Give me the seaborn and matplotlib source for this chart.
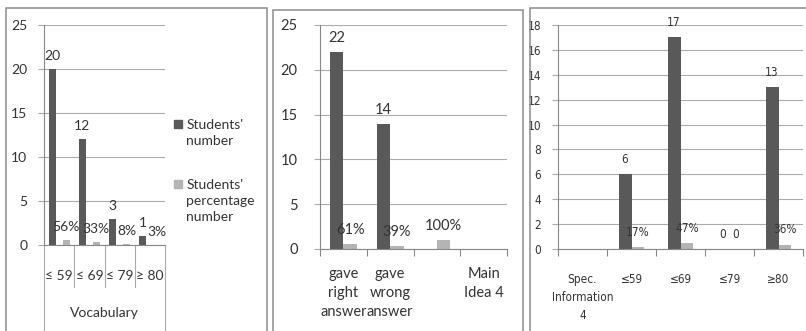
import numpy as np
import pandas as pd
import matplotlib
matplotlib.use("Agg")
import matplotlib.pyplot as plt
from matplotlib.patches import Rectangle
from matplotlib.lines import Line2D
from matplotlib.transforms import blended_transform_factory
import seaborn as sns

# ---- data -------------------------------------------------------------
vocab_bands = ["≤ 59", "≤ 69", "≤ 79", "≥ 80"]
vocab_counts = [20, 12, 3, 1]
vocab_shares = [0.56, 0.33, 0.08, 0.03]
vocab_title = "Vocabulary"

idea_groups = ["gave\nright\nanswer", "gave\nwrong\nanswer", "", "Main\nIdea 4"]
idea_counts = [22, 14, np.nan, np.nan]
idea_shares = [0.61, 0.39, 1.00, np.nan]

spec_bands = ["Spec.\nInformation\n4", "≤59", "≤69", "≤79", "≥80"]
spec_counts = [np.nan, 6, 17, 0, 13]
spec_shares = [np.nan, 0.17, 0.47, 0, 0.36]

series_names = ["Students' number", "Students' percentage number"]
legend_labels = ["Students'\nnumber", "Students'\npercentage\nnumber"]

# ---- style ------------------------------------------------------------
DARK = "#595959"
LIGHT = "#b4b4b4"
GRID = "#ababab"
AXIS = "#878787"
BORDER = "#8c8c8c"
TEXT = "#333333"
MAIN_FONT = ["Lato", "DejaVu Sans"]
NARROW_FONT = ["Liberation Sans Narrow", "DejaVu Sans"]

W, H = 806, 331
fig = plt.figure(figsize=(W / 100, H / 100), dpi=100)
fig.patch.set_facecolor("white")


def px_box(left, top, right, bottom):
    return [left / W, 1 - bottom / H, (right - left) / W, (bottom - top) / H]


def fy(y):
    return 1 - y / H


def long_frame(cats, counts, shares):
    n = len(cats)
    df = pd.DataFrame({
        "category": list(cats) * 2,
        "series": [series_names[0]] * n + [series_names[1]] * n,
        "value": list(counts) + list(shares),
    })
    return df.dropna()


def share_text(v):
    return "0" if v == 0 else f"{v:.0%}"


def draw_panel(ax, cats, counts, shares, width, gap, ymax, ystep,
               family, size, stretch, label_pad):
    df = long_frame(cats, counts, shares)
    sns.barplot(data=df, x="category", y="value", hue="series",
                order=cats, hue_order=series_names,
                palette=[DARK, LIGHT], saturation=1,
                width=width, gap=gap, errorbar=None, legend=False, ax=ax)
    ax.set_xlabel("")
    ax.set_ylabel("")
    ax.set_ylim(0, ymax)
    ax.set_yticks(np.arange(0, ymax + 0.01, ystep))
    ax.set_xlim(-0.5, len(cats) - 0.5)
    ax.yaxis.grid(True, color=GRID, lw=0.8)
    ax.set_axisbelow(True)
    for side in ("top", "right"):
        ax.spines[side].set_visible(False)
    for side in ("left", "bottom"):
        ax.spines[side].set_color(AXIS)
        ax.spines[side].set_linewidth(0.8)
    ax.tick_params(axis="y", length=4, color=GRID, width=0.8,
                   labelcolor=TEXT, labelsize=size)
    fmts = ["{:.0f}", share_text]
    for cont, fmt in zip(ax.containers, fmts):
        labels = ax.bar_label(cont, fmt=fmt, padding=label_pad,
                              fontsize=size, color=TEXT)
        for t in labels:
            t.set_family(family)
            t.set_stretch(stretch)
    return ax


def style_ticklabels(ax, family, stretch):
    for t in ax.get_xticklabels() + ax.get_yticklabels():
        t.set_family(family)
        t.set_stretch(stretch)


# ---- panel frames -----------------------------------------------------
for (l, t, r) in [(6, 8, 267), (273, 10, 523), (530, 8, 812)]:
    fig.add_artist(Rectangle((l / W, fy(345)), (r - l) / W, (345 - t) / H,
                             transform=fig.transFigure, fill=False,
                             ec=BORDER, lw=1.1))

# ---- panel 1: vocabulary ---------------------------------------------
ax1 = fig.add_axes(px_box(44, 25, 165, 245))
draw_panel(ax1, vocab_bands, vocab_counts, vocab_shares, width=0.93,
           gap=0.5, ymax=25, ystep=5, family=MAIN_FONT, size=10,
           stretch="normal", label_pad=5)
ax1.set_xticks(range(len(vocab_bands)))
ax1.set_xticklabels(vocab_bands)
ax1.tick_params(axis="x", length=0, pad=18, labelcolor=TEXT, labelsize=10)
ax1.tick_params(axis="y", pad=8)
style_ticklabels(ax1, MAIN_FONT, "normal")

# category separators below the axis
sep_tr = blended_transform_factory(ax1.transData, fig.transFigure)
n1 = len(vocab_bands)
for i in range(n1 + 1):
    xb = i - 0.5
    y_end = fy(340) if i in (0, n1) else fy(287)
    ax1.add_line(Line2D([xb, xb], [fy(245), y_end], transform=sep_tr,
                        color=GRID, lw=0.8, clip_on=False))
ax1.text((n1 - 1) / 2, fy(313), vocab_title, transform=sep_tr,
         ha="center", va="center", fontsize=10, color=TEXT,
         family=MAIN_FONT)

handles = [Line2D([], [], marker="s", ls="", color=DARK, markersize=6),
           Line2D([], [], marker="s", ls="", color=LIGHT, markersize=6)]
leg = ax1.legend(handles, legend_labels, loc="upper left",
                 bbox_to_anchor=(175 / W, fy(119)),
                 bbox_transform=fig.transFigure, frameon=False,
                 handlelength=0.5, handletextpad=0.3, labelspacing=2.3,
                 borderaxespad=0, borderpad=0,
                 prop={"family": MAIN_FONT, "size": 10})
for t in leg.get_texts():
    t.set_color(TEXT)
    t.set_linespacing(1.4)
    t.set_multialignment("left")
# put each marker beside the first line of its entry
for column in leg._legend_handle_box.get_children():
    for row in column.get_children():
        row.align = "top"

# ---- panel 2: main idea ------------------------------------------------
ax2 = fig.add_axes(px_box(320, 25, 507, 249))
draw_panel(ax2, idea_groups, idea_counts, idea_shares, width=0.575,
           gap=0, ymax=25, ystep=5, family=MAIN_FONT, size=10.5,
           stretch="normal", label_pad=5)
ax2.set_xticks(range(len(idea_groups)))
ax2.set_xticklabels(idea_groups, linespacing=1.45)
ax2.set_xticks(np.arange(len(idea_groups) + 1) - 0.5, minor=True)
ax2.tick_params(axis="x", which="major", length=0, pad=13,
                labelcolor=TEXT, labelsize=10.5)
ax2.tick_params(axis="x", which="minor", length=5, color=AXIS, width=0.8)
ax2.tick_params(axis="y", pad=12)
style_ticklabels(ax2, MAIN_FONT, "normal")

# ---- panel 3: specific information -------------------------------------
ax3 = fig.add_axes(px_box(558, 25, 803, 249))
draw_panel(ax3, spec_bands, spec_counts, spec_shares, width=0.53,
           gap=0, ymax=18, ystep=2, family=NARROW_FONT, size=8.5,
           stretch="condensed", label_pad=6)
ax3.set_xticks(range(len(spec_bands)))
ax3.set_xticklabels(spec_bands, linespacing=1.5)
ax3.set_xticks(np.arange(len(spec_bands) + 1) - 0.5, minor=True)
ax3.tick_params(axis="x", which="major", length=0, pad=17,
                labelcolor=TEXT, labelsize=8.5)
ax3.tick_params(axis="x", which="minor", length=5, color=AXIS, width=0.8)
ax3.tick_params(axis="y", pad=8)
style_ticklabels(ax3, NARROW_FONT, "condensed")

fig.savefig("out.png", dpi=100, facecolor="white")
